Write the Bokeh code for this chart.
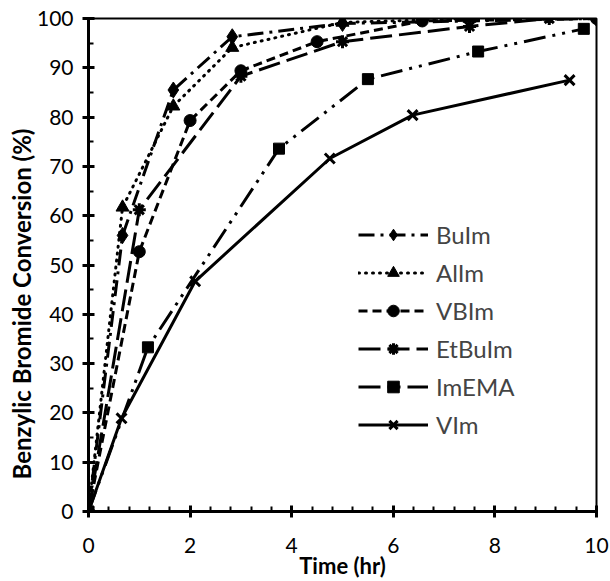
from bokeh.plotting import figure
from bokeh.models import Legend, LegendItem, FixedTicker, Range1d, Title
from bokeh.embed import file_html
from bokeh.resources import INLINE

# ---- data ----
buim_x = [0, 0.67, 1.67, 2.83, 5.0, 10.0]
buim_y = [0, 56.0, 85.5, 96.3, 99.0, 100.0]

alim_x = [0, 0.67, 1.67, 2.83, 5.0, 7.5]
alim_y = [0, 61.7, 82.2, 94.1, 99.2, 100.0]

vbim_x = [0, 1.0, 2.0, 3.0, 4.5, 6.57, 10.0]
vbim_y = [0, 52.7, 79.3, 89.4, 95.3, 99.5, 100.0]

etbuim_x = [0, 1.0, 3.0, 5.0, 7.5, 9.07]
etbuim_y = [0, 61.2, 88.3, 95.3, 98.4, 100.0]

imema_x = [0, 1.17, 3.75, 5.5, 7.67, 9.75]
imema_y = [0, 33.3, 73.6, 87.7, 93.3, 97.9]

vim_x = [0, 0.65, 2.1, 4.75, 6.38, 9.47]
vim_y = [0, 18.9, 46.7, 71.6, 80.4, 87.5]

series_names = ["BuIm", "AlIm", "VBIm", "EtBuIm", "ImEMA", "VIm"]

x_ticks = [0, 2, 4, 6, 8, 10]
y_ticks = [0, 10, 20, 30, 40, 50, 60, 70, 80, 90, 100]

x_title = "Time (hr)"
y_title = "Benzylic Bromide Conversion (%)"

FONT = "Lato"

p = figure(width=610, height=581, output_backend="svg", toolbar_location=None,
           x_range=Range1d(0, 10), y_range=Range1d(0, 100),
           min_border_left=88, min_border_right=14, min_border_top=18, min_border_bottom=68)
p.xgrid.visible = False
p.ygrid.visible = False
p.outline_line_color = "black"
p.outline_line_width = 2
p.background_fill_color = "white"
p.border_fill_color = "white"

series = [
    (buim_x, buim_y, "16 6 3 6", "diamond", 16, "butt"),
    (alim_x, alim_y, "1 6", "triangle", 13, "round"),
    (vbim_x, vbim_y, "9 5", "circle", 12, "butt"),
    (etbuim_x, etbuim_y, "22 7", "asterisk", 13, "butt"),
    (imema_x, imema_y, "22 7 3 7 3 7", "square", 11, "butt"),
    (vim_x, vim_y, "solid", "x", 14, "butt"),
]

items = []
for name, (xs, ys, dash, marker, size, cap) in zip(series_names, series):
    lr = p.line(xs, ys, line_color="black", line_width=3, line_dash=dash, line_cap=cap)
    if marker in ("asterisk", "x"):
        sr = p.scatter(xs, ys, marker=marker, size=size, line_color="black", line_width=3,
                       fill_color="black")
    else:
        sr = p.scatter(xs, ys, marker=marker, size=size, line_color="black", line_width=1,
                       fill_color="black")
    items.append(LegendItem(label=name, renderers=[lr, sr]))

legend = Legend(items=items, location=(270, 72), padding=0, margin=0, spacing=9,
                glyph_width=70, glyph_height=29, label_height=29,
                label_text_font=FONT, label_text_font_size="24px", label_standoff=8,
                border_line_color=None, background_fill_alpha=0)
p.add_layout(legend)

for ax in (p.xaxis[0], p.yaxis[0]):
    ax.axis_line_width = 3
    ax.axis_line_color = "black"
    ax.major_tick_line_width = 3
    ax.minor_tick_line_width = 2
    ax.major_tick_in = 6
    ax.major_tick_out = 6
    ax.minor_tick_in = 5
    ax.minor_tick_out = 0
    ax.major_label_text_font = FONT
    ax.major_label_text_font_size = "21px"
    ax.major_label_text_color = "black"

p.xaxis.ticker = FixedTicker(ticks=x_ticks, minor_ticks=[i * 0.4 for i in range(26)])
p.yaxis.ticker = FixedTicker(ticks=y_ticks, minor_ticks=[i * 5 for i in range(21)])
p.xaxis.axis_label = x_title
p.xaxis.axis_label_text_font = FONT
p.xaxis.axis_label_text_font_size = "22px"
p.xaxis.axis_label_text_font_style = "bold"
p.xaxis.axis_label_text_color = "black"
p.xaxis.major_label_standoff = 20
p.yaxis.major_label_standoff = 9
p.xaxis.axis_label_standoff = -4

ytitle = Title(text=y_title, align="left", offset=32, text_font=FONT,
               text_font_size="24px", text_font_style="bold", text_color="black",
               standoff=-5)
p.add_layout(ytitle, "left")

open("out.html", "w").write(file_html(p, INLINE))
